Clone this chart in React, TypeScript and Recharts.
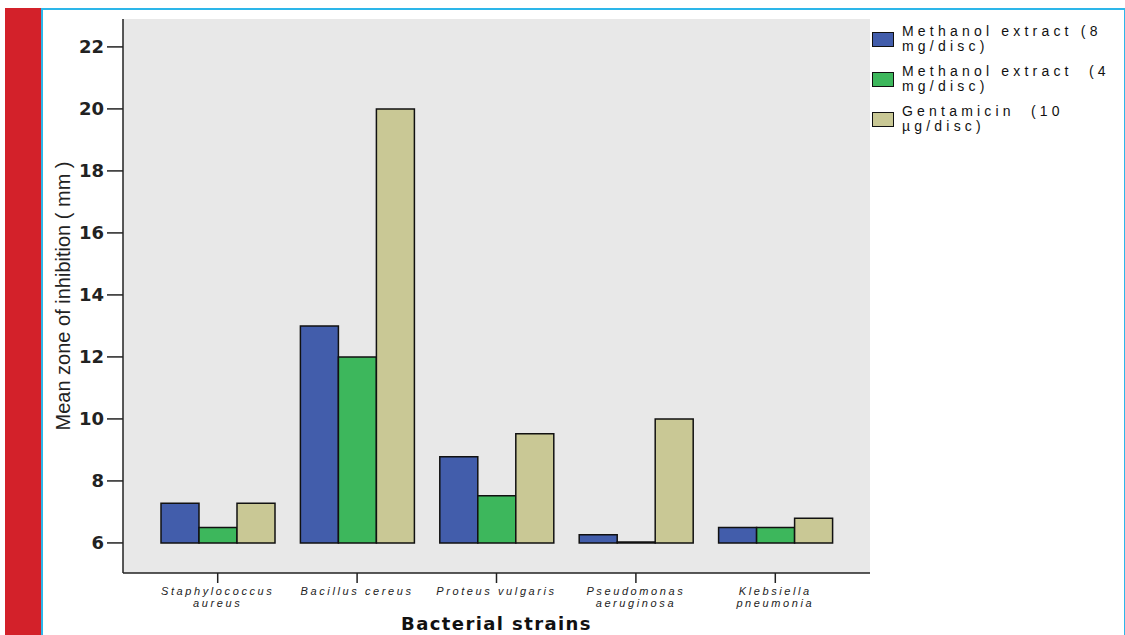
import { Bar, BarChart, CartesianGrid, XAxis, YAxis } from "recharts";

const strains = [
  ["Staphylococcus", "aureus"],
  ["Bacillus cereus"],
  ["Proteus vulgaris"],
  ["Pseudomonas", "aeruginosa"],
  ["Klebsiella", "pneumonia"]
];
const methanol8 = [7.28, 13, 8.78, 6.26, 6.5];
const methanol4 = [6.5, 12, 7.52, 6, 6.5];
const gentamicin = [7.28, 20, 9.52, 10, 6.8];
const yTicks = [6, 8, 10, 12, 14, 16, 18, 20, 22];
const BASE = 6;

const series = [
  { key: "m8", lines: ["Methanol extract (8", "mg/disc)"], color: "#425dab" },
  { key: "m4", lines: ["Methanol extract  (4", "mg/disc)"], color: "#3db75c" },
  { key: "gen", lines: ["Gentamicin  (10", "\u00b5g/disc)"], color: "#c9c895" }
];

const data = strains.map((s, i) => ({
  name: s.join(" "),
  m8: methanol8[i],
  m4: methanol4[i],
  gen: gentamicin[i]
}));

const SANS = "'Liberation Sans', Arial, sans-serif";
const WIDE = "'DejaVu Sans', Verdana, sans-serif";

function StrainTick({ x, y, index }: any) {
  const lines = strains[index] || [];
  return (
    <text
      x={x}
      y={y}
      textAnchor="middle"
      fontFamily={SANS}
      fontStyle="italic"
      fontSize={11}
      letterSpacing={2.6}
      fill="#222"
    >
      {lines.map((l, i) => (
        <tspan key={i} x={x} dy={i === 0 ? 10 : 12}>
          {l}
        </tspan>
      ))}
    </text>
  );
}

function LegendBox() {
  return (
    <div
      style={{
        position: "absolute",
        left: 872,
        top: 24,
        fontFamily: SANS,
        fontSize: 14,
        lineHeight: "15px",
        letterSpacing: 4.2,
        color: "#111"
      }}
    >
      {series.map((s) => (
        <div key={s.key} style={{ display: "flex", alignItems: "center", height: 30, marginBottom: 10 }}>
          <div
            style={{
              width: 20,
              height: 13,
              background: s.color,
              border: "1.5px solid #111",
              marginRight: 8
            }}
          />
          <div style={{ whiteSpace: "pre" }}>
            {s.lines[0]}
            <br />
            {s.lines[1]}
          </div>
        </div>
      ))}
    </div>
  );
}

export default function App() {
  return (
    <div style={{ position: "absolute", left: 0, top: 0, width: 1125, height: 635, background: "#fff", overflow: "hidden" }}>
      <div style={{ position: "absolute", left: 5, top: 8, width: 36, height: 627, background: "#d3212a" }} />
      <div
        style={{
          position: "absolute",
          left: 41,
          top: 8,
          width: 1081,
          height: 640,
          borderTop: "2px solid #2db6e9",
          borderLeft: "2px solid #2db6e9",
          borderRight: "2px solid #2db6e9"
        }}
      />
      <div style={{ position: "absolute", left: 0, top: 0 }}>
        <BarChart
          width={1125}
          height={635}
          data={data}
          margin={{ top: 19, left: 63, right: 255, bottom: 12 }}
          barCategoryGap={13}
          barGap={0}
        >
          <CartesianGrid horizontal={false} vertical={false} fill="#e8e8e8" />
          <XAxis
            dataKey="name"
            interval={0}
            height={50}
            padding={{ left: 25, right: 25 }}
            tick={<StrainTick />}
            tickSize={10}
            tickMargin={2}
            axisLine={{ stroke: "#222", strokeWidth: 1.5 }}
            tickLine={{ stroke: "#222", strokeWidth: 1.5 }}
            label={{
              value: "Bacterial strains",
              position: "insideBottom",
              offset: -7,
              fontFamily: WIDE,
              fontWeight: "bold",
              fontSize: 18,
              letterSpacing: 1.4,
              fill: "#111"
            }}
          />
          <XAxis
            xAxisId="top"
            dataKey="name"
            orientation="top"
            height={0}
            tick={false}
            tickLine={false}
            axisLine={{ stroke: "#222", strokeWidth: 1.5 }}
          />
          <YAxis
            width={60}
            domain={[5.03, 22.9]}
            ticks={yTicks}
            allowDataOverflow
            tickSize={16}
            tickMargin={3}
            tick={{ fontFamily: WIDE, fontWeight: "bold", fontSize: 18, fill: "#222" }}
            axisLine={{ stroke: "#222", strokeWidth: 1.5 }}
            tickLine={{ stroke: "#222", strokeWidth: 1.5 }}
            label={{
              value: "Mean zone of inhibition ( mm )",
              angle: -90,
              position: "insideLeft",
              offset: 0,
              style: { textAnchor: "middle" },
              fontFamily: SANS,
              fontSize: 20,
              fill: "#222"
            }}
          />
          <YAxis
            yAxisId="right"
            orientation="right"
            width={0}
            domain={[5.03, 22.9]}
            tick={false}
            tickLine={false}
            axisLine={{ stroke: "#222", strokeWidth: 1.5 }}
          />
          {series.map((s) => (
            <Bar
              key={s.key}
              dataKey={(d: any) => [BASE, d[s.key]]}
              name={s.lines.join(" ")}
              fill={s.color}
              stroke="#111"
              strokeWidth={1.5}
              minPointSize={1}
              isAnimationActive={false}
            />
          ))}
        </BarChart>
      </div>
      <LegendBox />
    </div>
  );
}
